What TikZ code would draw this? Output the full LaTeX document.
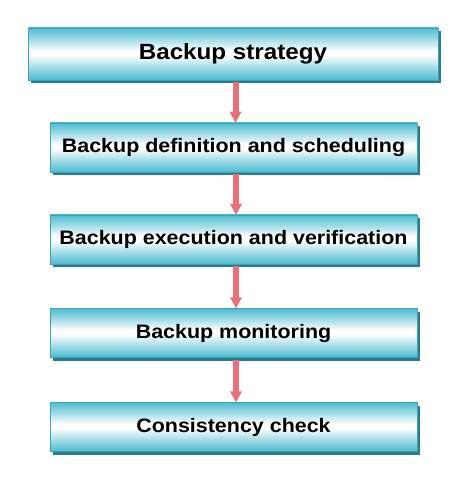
\documentclass[tikz,border=0pt]{standalone}
\usepackage{fontspec}
\setmainfont{Liberation Sans}
\newfontfamily\boxfont[FakeStretch=1.1]{Liberation Sans Bold}
\usetikzlibrary{arrows.meta,shadows}
\definecolor{cyanA}{HTML}{4DBCD0}
\definecolor{edgec}{HTML}{3FA3B8}
\definecolor{shadowc}{HTML}{2B7C8B}
\definecolor{arrowc}{HTML}{EA6F79}
\pgfdeclareverticalshading{boxshade}{100bp}{
  color(0bp)=(cyanA);
  color(25bp)=(cyanA);
  color(34bp)=(cyanA!65!white);
  color(49bp)=(white);
  color(53bp)=(white);
  color(66bp)=(cyanA!60!white);
  color(75bp)=(cyanA);
  color(100bp)=(cyanA)}
\tikzset{
  x=1pt,y=1pt,
  stepbox/.style={rectangle, minimum height=49pt, inner sep=0pt,
    shading=boxshade, draw=edgec, line width=0.5pt,
    font=\boxfont\fontsize{19.5}{21}\selectfont,
    general shadow={fill=shadowc, shadow xshift=3pt, shadow yshift=-3pt}},
}
\begin{document}
\begin{tikzpicture}
\useasboundingbox (0,0) rectangle (474,-502);
\node[stepbox, minimum width=410pt, minimum height=52pt, font=\boxfont\fontsize{22}{24}\selectfont] (s1) at (233,-54) {Backup strategy};
\node[stepbox, minimum width=367pt] (s2) at (233.5,-147.5) {Backup definition and scheduling};
\node[stepbox, minimum width=367pt] (s3) at (233.5,-239.5) {Backup execution and verification};
\node[stepbox, minimum width=367pt] (s4) at (233.5,-333) {Backup monitoring};
\node[stepbox, minimum width=367pt] (s5) at (233.5,-427) {Consistency check};
\foreach \a/\b in {s1/s2, s2/s3, s3/s4, s4/s5}{
  \path ([xshift=2.5pt]\a.south) ++(0,-2) coordinate (t);
  \path (t |- \b.north) coordinate (h);
  \fill[arrowc] ([xshift=-3pt]t) rectangle ([xshift=3pt,yshift=10pt]h);
  \fill[arrowc] ([xshift=-6pt,yshift=11pt]h) -- (h) -- ([xshift=6pt,yshift=11pt]h) -- cycle;
}
\end{tikzpicture}
\end{document}
